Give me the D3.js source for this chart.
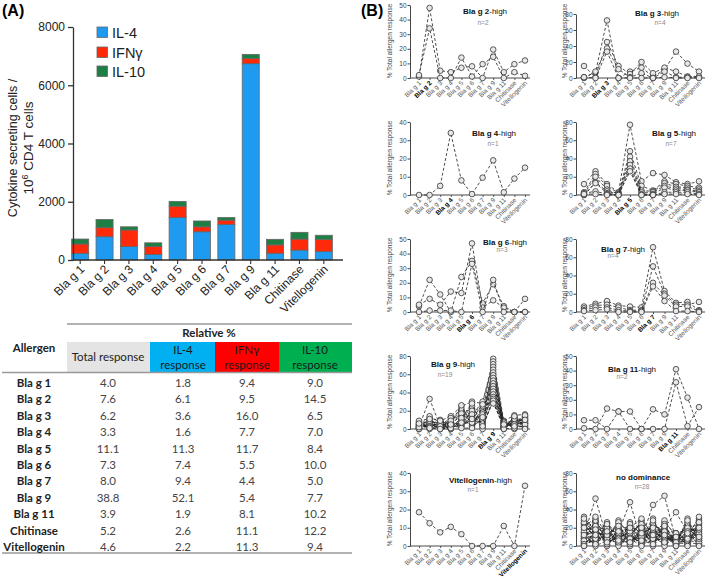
<!DOCTYPE html>
<html><head><meta charset="utf-8">
<script src="https://cdn.jsdelivr.net/npm/d3@7"></script>
<style>body{margin:0;background:#fff} svg{display:block}</style>
</head><body><svg id="c" width="709" height="583"></svg>
<script>
// ---------- DATA ----------
const categories = ["Bla g 1","Bla g 2","Bla g 3","Bla g 4","Bla g 5","Bla g 6","Bla g 7","Bla g 9","Bla g 11","Chitinase","Vitellogenin"];
const il4Cells  = [230, 800, 460, 190, 1460, 970, 1220, 6740, 230, 340, 290];
const ifngCells = [320, 310, 570, 270, 390, 170, 150, 180, 290, 380, 420];
const il10Cells = [170, 280, 110, 130, 160, 200, 90, 140, 190, 230, 140];
const yTicksA = [0, 2000, 4000, 6000, 8000];
const legendLabels = ["IL-4", "IFNγ", "IL-10"];

const tableAllergens = categories;
const totalPct = ["4.0","7.6","6.2","3.3","11.1","7.3","8.0","38.8","3.9","5.2","4.6"];
const il4Pct   = ["1.8","6.1","3.6","1.6","11.3","7.4","9.4","52.1","1.9","2.6","2.2"];
const ifngPct  = ["9.4","9.5","16.0","7.7","11.7","5.5","4.4","5.4","8.1","11.1","11.3"];
const il10Pct  = ["9.0","14.5","6.5","7.0","8.4","10.0","5.0","7.7","10.2","12.2","9.4"];

const panelNames = ["Bla g 2","Bla g 3","Bla g 4","Bla g 5","Bla g 6","Bla g 7","Bla g 9","Bla g 11","Vitellogenin","no dominance"];
const panelN = [2,4,1,7,3,4,19,2,1,28];
const panelYMax = [50,80,40,80,50,80,80,50,40,80];

const blag2High = [
 [1,48,5,4,7,8,0,19.5,4,9.5,12],
 [2,34,0,0,14,1,9.5,14.5,0,4,1.5]];
const blag3High = [
 [1,7,72,0,8,13,2,10,33,18,8],
 [15,1,45,15,5,20,6,13,8,2,1],
 [0,8,37,11,1,6,0,8,1,1,2],
 [1,0,33,0,0,0,0,1,0,0,0]];
const blag4High = [
 [0,0,5,34,8,0.5,9.5,19,1.5,9,15]];
const blag5High = [
 [12,26,12,3,77,15,24,22,14,12,15],
 [3,23,10,2,48,10,5,15,12,10,8],
 [1,20,6,1,42,5,4,13,9,8,6],
 [0,14,4,1,37,3,3,10,7,6,4],
 [0,13,2,0,33,1,1,8,5,5,3],
 [2,4,1,0,29,0,0,3,3,3,1],
 [1,1,0,0,26,0,0,1,1,1,0]];
const blag6High = [
 [4,22,12,0,24,35,6,19,4,0,0],
 [5,9,5,14,13,47,3,8,3,0,9],
 [0,1,1,1,0,33,0,22,0,0,0]];
const blag7High = [
 [6,9,12,7,6,5,71,23,10,11,2],
 [4,7,8,5,2,2,50,20,8,8,11],
 [2,5,5,2,1,1,32,18,6,6,1],
 [1,2,3,0,0,0,28,12,1,1,0]];
const blag9High = [
 [2,33,3,1,5,8,4,30,2,6,6],
 [8,12,9,14,25,30,28,77,9,15,16],
 [5,8,6,3,18,22,20,74,6,10,12],
 [3,5,4,2,12,15,30,71,4,8,10],
 [1,3,2,8,20,10,15,68,3,5,8],
 [0,6,1,1,8,6,12,65,1,12,4],
 [6,2,8,5,15,18,8,62,7,3,14],
 [4,10,3,10,22,12,22,59,2,7,6],
 [2,4,5,0,10,25,5,56,5,4,2],
 [7,1,0,4,6,9,18,53,0,9,11],
 [0,7,2,6,26,4,10,50,8,2,3],
 [3,14,7,2,4,20,2,47,3,13,7],
 [9,0,4,12,14,2,25,44,1,0,9],
 [1,5,10,3,2,14,6,41,4,6,1],
 [5,3,1,7,17,7,16,38,6,1,13],
 [0,9,6,0,9,16,0,35,2,11,5],
 [4,2,3,9,1,1,13,33,7,5,15],
 [2,11,0,1,12,28,3,31,0,14,0],
 [6,1,9,5,7,11,27,28,5,3,10]];
const blag11High = [
 [6,6,0,12,12,0,13.5,10,41,21.5,0],
 [0.5,0,14,12,0,0,0,0,32,2,15]];
const vitHigh = [
 [18.5,12.5,7.5,10.5,6.5,0,0,0,11,0,33]];
const noDominance = [
 [12,52,8,3,10,6,4,10,5,8,12],
 [5,10,6,15,48,5,8,12,3,6,10],
 [8,4,10,6,3,8,45,55,6,4,2],
 [3,6,12,8,5,10,14,20,37,15,18],
 [32,15,6,4,12,2,6,8,4,10,14],
 [28,20,4,10,8,6,10,5,12,20,8],
 [25,8,18,2,6,15,4,14,2,30,6],
 [22,30,2,12,24,4,20,6,10,2,25],
 [20,2,14,20,2,18,8,22,6,12,30],
 [18,14,25,6,16,10,30,4,14,6,4],
 [15,24,8,28,10,28,2,16,8,22,12],
 [10,18,20,14,20,8,26,10,4,16,20],
 [8,26,12,24,4,22,12,26,12,8,28],
 [6,12,26,10,14,2,18,12,2,26,10],
 [4,20,4,18,22,14,6,28,10,4,16],
 [2,6,16,2,12,26,16,8,6,14,22],
 [0,16,10,16,6,12,22,18,14,18,2],
 [14,0,6,8,18,20,0,24,0,10,32],
 [24,10,22,12,0,16,10,2,8,24,6],
 [16,22,0,20,10,4,24,14,4,2,14],
 [10,4,14,0,26,12,14,0,12,12,24],
 [6,28,8,26,14,24,4,20,2,28,4],
 [26,14,2,14,8,0,28,10,10,6,18],
 [2,8,20,4,24,10,8,16,6,20,8],
 [12,32,12,22,2,20,18,6,14,0,26],
 [20,2,24,8,16,6,2,22,4,16,0],
 [0,18,4,16,20,30,12,12,0,8,20],
 [30,12,16,6,4,14,20,4,10,14,10]];
const panelSeries = [blag2High, blag3High, blag4High, blag5High, blag6High, blag7High, blag9High, blag11High, vitHigh, noDominance];

// ---------- DRAW ----------
const svg = d3.select("#c");
const FONT = "Arial, 'Liberation Sans', sans-serif";
const TFONT = "Lato, 'Open Sans', sans-serif";

svg.append("text").attr("x",2).attr("y",16).text("(A)")
  .attr("font-weight","bold").attr("font-size",16).attr("font-family",FONT);

const xA = d3.scaleBand().domain(categories).range([68,336]).paddingInner(0.3).paddingOuter(0.15);
const yA = d3.scaleLinear().domain([0,8000]).range([260,27]);
const stackData = categories.map((c,i)=>({cat:c, il4:il4Cells[i], ifng:ifngCells[i], il10:il10Cells[i]}));
const keys = ["il4","ifng","il10"];
const colA = {il4:"#1E9BF0", ifng:"#FF2A0A", il10:"#1E7F45"};
const stacked = d3.stack().keys(keys)(stackData);
svg.append("g").selectAll("g").data(stacked).join("g").attr("fill",d=>colA[d.key])
  .selectAll("rect").data(d=>d).join("rect")
  .attr("x",d=>xA(d.data.cat)).attr("width",xA.bandwidth())
  .attr("y",d=>yA(d[1])).attr("height",d=>yA(d[0])-yA(d[1]))
  .attr("stroke","#666").attr("stroke-width",0.8);

const gyA = svg.append("g").attr("transform","translate(73,0)")
  .call(d3.axisLeft(yA).tickValues(yTicksA).tickFormat(d3.format("d")).tickSize(5).tickSizeOuter(0));
gyA.selectAll("line,path").attr("stroke","#333").attr("stroke-width",1.3);
gyA.selectAll("text").attr("font-size",12).attr("font-family",FONT).attr("fill","#222");

const gxA = svg.append("g").attr("transform","translate(0,260)")
  .call(d3.axisBottom(xA).tickSize(4).tickSizeOuter(0));
gxA.select(".domain").attr("d","M73,0H343").attr("stroke","#333").attr("stroke-width",1.3);
gxA.selectAll("line").attr("stroke","#333").attr("stroke-width",1.1);
gxA.selectAll("text").attr("x",0).attr("y",0).attr("dy",0).attr("text-anchor","end")
  .attr("transform","translate(5,10) rotate(-45)")
  .attr("font-size",12).attr("font-family",FONT).attr("fill","#222");

// y title
const yt = svg.append("g").attr("font-family",FONT).attr("font-size",12.5).attr("fill","#222");
yt.append("text").attr("transform","translate(17,148) rotate(-90)").attr("text-anchor","middle").text("Cytokine secreting cells /");
const yt2 = yt.append("text").attr("transform","translate(33,148) rotate(-90)").attr("text-anchor","middle").attr("font-size",13.5);
yt2.append("tspan").text("10");
yt2.append("tspan").attr("baseline-shift","super").attr("font-size",9).text("6");
yt2.append("tspan").text(" CD4 T cells");

// legend
const leg = svg.append("g");
legendLabels.forEach((l,i)=>{
  const yy = [27,47,66][i];
  leg.append("rect").attr("x",97).attr("y",yy).attr("width",10.5).attr("height",10.5)
    .attr("fill",colA[keys[i]]).attr("stroke","#666").attr("stroke-width",0.8);
  leg.append("text").attr("x",112).attr("y",yy+10.5).text(l)
    .attr("font-size",14.5).attr("font-family",FONT).attr("fill","#222");
});

// ---------- TABLE ----------
const tb = svg.append("g").attr("font-family",TFONT);
const colCenters = [108,183,247,315];
tb.append("rect").attr("x",67).attr("y",342).attr("width",83).attr("height",30).attr("fill","#E4E4E4");
tb.append("rect").attr("x",150).attr("y",342).attr("width",65).attr("height",30).attr("fill","#00B0F0");
tb.append("rect").attr("x",215).attr("y",342).attr("width",64).attr("height",30).attr("fill","#FF0000");
tb.append("rect").attr("x",279).attr("y",342).attr("width",73).attr("height",30).attr("fill","#00B050");
tb.append("line").attr("x1",67).attr("x2",352).attr("y1",324).attr("y2",324).attr("stroke","#999").attr("stroke-width",1.5);
tb.append("line").attr("x1",2).attr("x2",352).attr("y1",372.5).attr("y2",372.5).attr("stroke","#999").attr("stroke-width",1.5);
tb.append("line").attr("x1",2).attr("x2",352).attr("y1",553).attr("y2",553).attr("stroke","#999").attr("stroke-width",1.5);
tb.append("text").attr("x",209).attr("y",337).attr("text-anchor","middle").attr("font-weight","bold")
  .attr("font-size",11.5).attr("fill","#222").text("Relative %");
tb.append("text").attr("x",34).attr("y",352).attr("text-anchor","middle").attr("font-weight","bold")
  .attr("font-size",11.5).attr("fill","#222").text("Allergen");
tb.append("text").attr("x",108).attr("y",361).attr("text-anchor","middle")
  .attr("font-size",11.5).attr("fill","#222").text("Total response");
[["IL-4",183],["IFNγ",247],["IL-10",315]].forEach(([t,x])=>{
  tb.append("text").attr("x",x).attr("y",354).attr("text-anchor","middle").attr("font-size",11.5).attr("fill","#1a1a1a").text(t);
  tb.append("text").attr("x",x).attr("y",369).attr("text-anchor","middle").attr("font-size",11.5).attr("fill","#1a1a1a").text("response");
});
const rowsTbl = tableAllergens.map((a,i)=>[a,totalPct[i],il4Pct[i],ifngPct[i],il10Pct[i]]);
rowsTbl.forEach((r,i)=>{
  const y = 387 + i*16.4;
  tb.append("text").attr("x",34).attr("y",y).attr("text-anchor","middle").attr("font-weight","bold")
    .attr("font-size",11.5).attr("fill","#222").text(r[0]);
  for(let j=1;j<5;j++){
    tb.append("text").attr("x",colCenters[j-1]).attr("y",y).attr("text-anchor","middle")
      .attr("font-size",11.5).attr("fill","#444").text(r[j]);
  }
});

// ---------- PANEL B ----------
svg.append("text").attr("x",361).attr("y",16).text("(B)")
  .attr("font-weight","bold").attr("font-size",16).attr("font-family",FONT);

const titlePos = [[463,14,483,25],[635,16,660,25],[472,136,493,145.5],[652,136,671,145.5],[483,245,502,252],
                  [601,251.5,613,258],[431,367,445,376.5],[608,371.5,622,379],[449,483,473,491.5],[616,480,642,489]];

panelNames.forEach((name,i)=>{
  const col = i%2, row = Math.floor(i/2);
  const axisX = col ? 576 : 410;
  const xEnd = col ? 705 : 530;
  const xs = d3.scalePoint().domain(categories).range(col ? [584,699] : [419,525]);
  const bottom = 78 + row*117;
  const top = i===1 ? 14 : bottom-73;
  const ymax = panelYMax[i];
  const ys = d3.scaleLinear().domain([0,ymax]).range([bottom,top]);
  const g = svg.append("g").attr("font-family",FONT);

  const gy = g.append("g").attr("transform",`translate(${axisX},0)`)
    .call(d3.axisLeft(ys).tickValues(d3.range(0,ymax+1,ymax===80?20:10)).tickSize(2.5).tickSizeOuter(0));
  gy.selectAll("line,path").attr("stroke","#333").attr("stroke-width",0.9);
  gy.selectAll("text").attr("x",-3.5).attr("font-size",6.5).attr("font-family",FONT).attr("fill","#444");

  const gx = g.append("g").attr("transform",`translate(0,${bottom})`)
    .call(d3.axisBottom(xs).tickSize(2).tickSizeOuter(0));
  gx.select(".domain").attr("d",`M${axisX},0H${xEnd}`).attr("stroke","#333").attr("stroke-width",0.9);
  gx.selectAll("line").attr("stroke","#333").attr("stroke-width",0.8);
  gx.selectAll("text").attr("x",0).attr("y",0).attr("dy",0).attr("text-anchor","end")
    .attr("transform","translate(2,5.5) rotate(-45)")
    .attr("font-size",6.5).attr("font-family",FONT)
    .attr("fill",d=>d===name ? "#000" : "#555")
    .attr("font-weight",d=>d===name ? "bold" : "normal");

  g.append("text").attr("transform",`translate(${col?567:392},${bottom-37}) rotate(-90)`)
    .attr("text-anchor","middle").attr("font-size",6.5).attr("fill","#444").text("% Total allergen response");

  const line = d3.line().x((d,k)=>xs(categories[k])).y(d=>ys(d));
  panelSeries[i].forEach(s=>{
    g.append("path").attr("d",line(s)).attr("fill","none").attr("stroke","#222")
      .attr("stroke-width",0.8).attr("stroke-dasharray","3,2");
    g.append("g").selectAll("circle").data(s).join("circle")
      .attr("cx",(d,k)=>xs(categories[k])).attr("cy",d=>ys(d)).attr("r",2.8)
      .attr("fill","#e8e8e8").attr("stroke","#333").attr("stroke-width",0.8);
  });

  const tp = titlePos[i];
  const t = g.append("text").attr("x",tp[0]).attr("y",tp[1]).attr("font-size",8).attr("fill","#111");
  if(name==="no dominance"){
    t.append("tspan").attr("font-weight","bold").text(name);
  } else {
    t.append("tspan").attr("font-weight","bold").text(name);
    t.append("tspan").text("-high");
  }
  g.append("text").attr("x",tp[2]).attr("y",tp[3]).attr("text-anchor","middle")
    .attr("font-size",6.5).attr("fill","#888").text("n=" + panelN[i]);
});
</script>
</body></html>
